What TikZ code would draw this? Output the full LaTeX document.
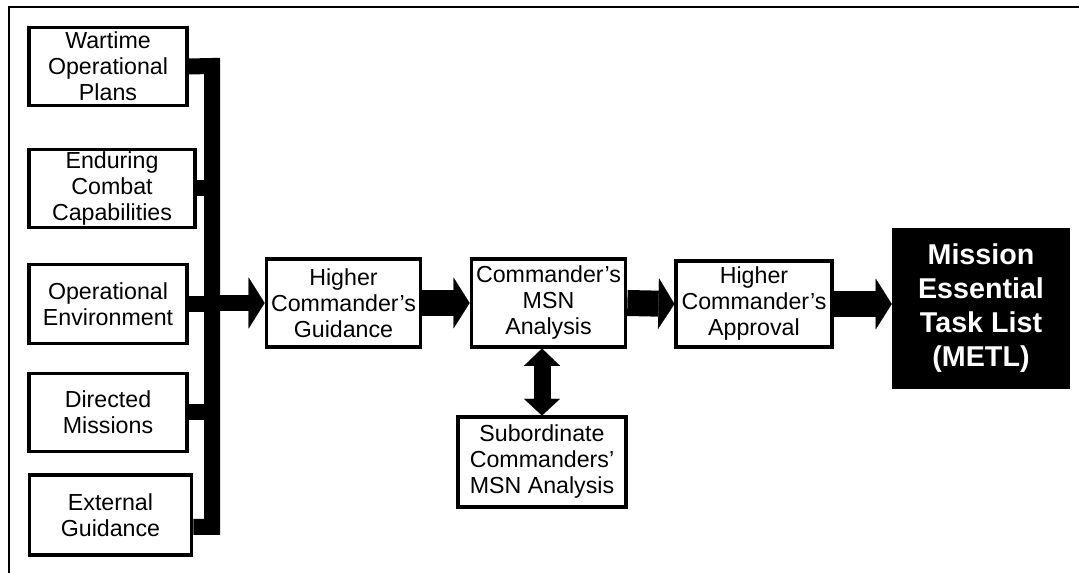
\documentclass[tikz,border=0pt]{standalone}
\usepackage{fontspec}
\setmainfont{Liberation Sans}
\usetikzlibrary{arrows.meta}

\tikzset{
  srcbox/.style={draw,line width=2.3pt,fill=white,align=center,inner sep=0pt,
    minimum height=59pt,font=\fontsize{17.4}{19.5}\selectfont},
  stepbox/.style={draw,line width=2.3pt,fill=white,align=center,inner sep=0pt,
    minimum width=116pt,minimum height=66pt,font=\fontsize{17.4}{19.5}\selectfont},
  metlbox/.style={fill=black,text=white,align=center,inner sep=0pt,
    minimum width=133.5pt,minimum height=121pt,font=\bfseries\fontsize{21.5}{25.5}\selectfont},
  bus/.style={line width=12pt,line join=miter},
  fat/.style={line width=19.5pt,-{Triangle[width=38pt,length=12pt,line width=0.1pt]}},
  busarrow/.style={line width=12pt,-{Triangle[width=38.25pt,length=12pt,line width=0.1pt]}},
  twoway/.style={line width=12.75pt,
    {Triangle[width=27pt,length=13pt,line width=0.1pt]}-{Triangle[width=27pt,length=12.5pt,line width=0.1pt]}}
}

\begin{document}
\begin{tikzpicture}[x=0.75pt,y=-0.75pt]
\useasboundingbox (0,0) rectangle (1079,573);

% Frame
\draw[line width=2pt] (1079,7) -- (9,7) -- (9,573);

% Inputs
\node[srcbox,minimum width=118.5pt] (plans)  at (108,66.5)  {Wartime\\Operational\\Plans};
\node[srcbox,minimum width=124.5pt] (capab)  at (112,188.5) {Enduring\\Combat\\Capabilities};
\node[srcbox,minimum width=118.5pt] (envir)  at (108,304)   {Operational\\Environment};
\node[srcbox,minimum width=118.5pt] (dirmsn) at (108,412.5) {Directed\\Missions};
\node[srcbox,minimum width=122pt,minimum height=60pt] (extguid) at (110.5,515) {External\\Guidance};

% Process steps
\node[stepbox] (hguid) at (343.5,303) {Higher\\Commander's\\Guidance};
\node[stepbox] (msn)   at (548.5,303) {Commander's\\MSN\\Analysis};
\node[stepbox,minimum width=117pt,minimum height=64.5pt] (happr) at (754,304) {Higher\\Commander's\\Approval};
\node[stepbox,minimum width=126pt,minimum height=67.5pt] (submsn) at (542,462) {Subordinate\\Commanders'\\MSN Analysis};

% Result
\node[metlbox] (metl) at (981,308.5) {Mission\\Essential\\Task List\\(METL)};

% Bus
\coordinate (bustop) at (212,66);
\coordinate (busbot) at (212,527);
\draw[bus] (plans.east) -- (bustop) -- (busbot) -- (busbot -| extguid.east);
\foreach \n in {capab,envir,dirmsn} {
  \draw[bus] (\n.east) -- (\n.east -| bustop);
}

% Arrows
\draw[busarrow] (hguid.west -| bustop) -- (hguid.west);
\draw[fat] (hguid.east) -- (msn.west);
\draw[fat] (msn.east) -- (happr.west);
\draw[fat] (happr.east) -- (happr.east -| metl.west);
\draw[twoway] (submsn.north |- msn.south) -- (submsn.north);

\end{tikzpicture}
\end{document}
